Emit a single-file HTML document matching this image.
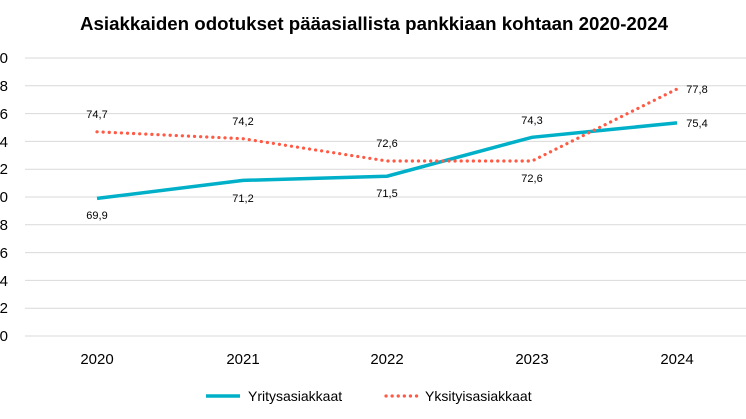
<!DOCTYPE html>
<html><head><meta charset="utf-8"><style>body{margin:0;background:#fff}svg{display:block}</style></head><body>
<svg width="746" height="419" viewBox="0 0 746 419" font-family="Liberation Sans, sans-serif">
<text x="374" y="30" text-anchor="middle" font-size="18" font-weight="bold" fill="#000" textLength="588" lengthAdjust="spacingAndGlyphs">Asiakkaiden odotukset pääasiallista pankkiaan kohtaan 2020-2024</text>
<g stroke="#d9d9d9" stroke-width="1">
<line x1="25" x2="746" y1="58" y2="58"/><line x1="25" x2="746" y1="85.8" y2="85.8"/><line x1="25" x2="746" y1="113.6" y2="113.6"/><line x1="25" x2="746" y1="141.4" y2="141.4"/><line x1="25" x2="746" y1="169.2" y2="169.2"/><line x1="25" x2="746" y1="197" y2="197"/><line x1="25" x2="746" y1="224.8" y2="224.8"/><line x1="25" x2="746" y1="252.6" y2="252.6"/><line x1="25" x2="746" y1="280.4" y2="280.4"/><line x1="25" x2="746" y1="308.2" y2="308.2"/><line x1="25" x2="746" y1="336" y2="336"/>
</g>
<g font-size="15" fill="#000" text-anchor="end">
<text x="8" y="63">80</text><text x="8" y="91">78</text><text x="8" y="119">76</text><text x="8" y="147">74</text><text x="8" y="174">72</text><text x="8" y="202">70</text><text x="8" y="230">68</text><text x="8" y="258">66</text><text x="8" y="286">64</text><text x="8" y="313">62</text><text x="8" y="341">60</text>
</g>
<g font-size="15" fill="#000" text-anchor="middle">
<text x="97" y="364">2020</text><text x="243" y="364">2021</text><text x="387" y="364">2022</text><text x="532" y="364">2023</text><text x="677" y="364">2024</text>
</g>
<polyline fill="none" stroke="#00b0c8" stroke-width="3.5" points="97,198.4 243,180.4 387,176.2 532,137.3 677,122.9"/>
<polyline fill="none" stroke="#ff5a45" stroke-width="3.2" stroke-dasharray="0.1,6" stroke-linecap="round" points="97,131.8 243,138.7 387,161 532,161 677,89"/>
<g font-size="11" fill="#000" text-anchor="middle">
<text x="97" y="219">69,9</text><text x="243" y="202">71,2</text><text x="387" y="197">71,5</text><text x="532" y="124">74,3</text><text x="697" y="127">75,4</text>
<text x="97" y="118">74,7</text><text x="243" y="125">74,2</text><text x="387" y="147">72,6</text><text x="532" y="182">72,6</text><text x="697" y="93">77,8</text>
</g>
<line x1="206" x2="240" y1="396" y2="396" stroke="#00b0c8" stroke-width="3.5"/>
<text x="248" y="401" font-size="14" fill="#000">Yritysasiakkaat</text>
<line x1="386" x2="417" y1="396" y2="396" stroke="#ff5a45" stroke-width="3.2" stroke-dasharray="0.1,6" stroke-linecap="round"/>
<text x="425" y="401" font-size="14" fill="#000">Yksityisasiakkaat</text>
</svg>
</body></html>
